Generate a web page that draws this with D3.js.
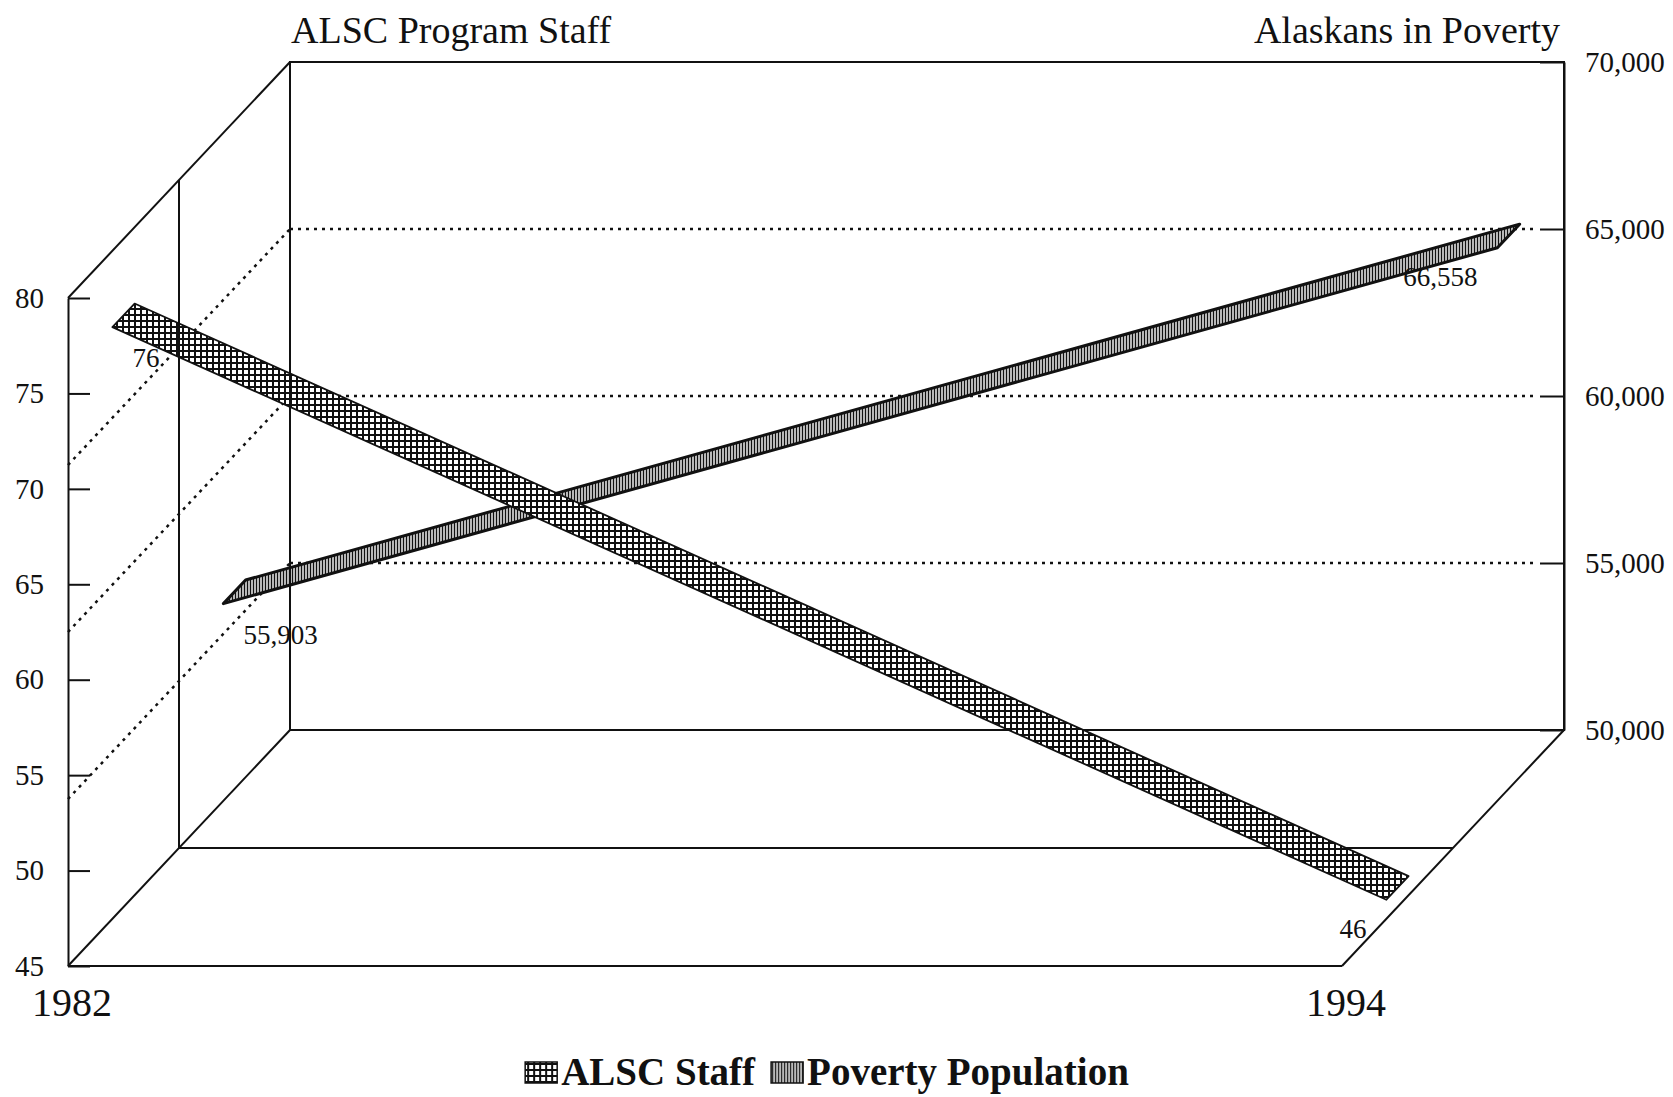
<!DOCTYPE html>
<html>
<head>
<meta charset="utf-8">
<script src="https://cdn.jsdelivr.net/npm/d3@7"></script>
<style>
  body { margin: 0; background: #fff; }
  svg { display: block; }
  text { font-family: "Liberation Serif", "Times New Roman", serif; fill: #111; }
</style>
</head>
<body>
<div id="chart"></div>
<script>
// data
const years = [1982, 1994];
const staffValues = [76, 46];
const povertyValues = [55903, 66558];
const staffTicks = [45, 50, 55, 60, 65, 70, 75, 80];
const povertyTicks = [50000, 55000, 60000, 65000, 70000];
const povertyGrid = [55000, 60000, 65000];
const seriesNames = ['ALSC Staff', 'Poverty Population'];
const axisTitles = ['ALSC Program Staff', 'Alaskans in Poverty'];

const width = 1673, height = 1097;
// front plane of the 3d box and the depth offset to the back wall
const front = {left: 68, right: 1342, top: 298, bottom: 966};
const depth = {dx: 222, dy: -236};
const ribbonDepth = 0.1;
const seriesDepth = [0.2, 0.7];

const proj = (x, y, d) => [x + d * depth.dx, y + d * depth.dy];

const svg = d3.select('#chart').append('svg')
    .attr('width', width)
    .attr('height', height);

svg.append('rect').attr('width', width).attr('height', height).attr('fill', '#fff');

// hatch patterns
const defs = svg.append('defs');
const cross = defs.append('pattern')
    .attr('id', 'cross').attr('patternUnits', 'userSpaceOnUse')
    .attr('width', 6).attr('height', 6);
cross.append('rect').attr('width', 6).attr('height', 6).attr('fill', '#fff');
cross.append('path').attr('d', 'M0 3H6M3 0V6').attr('stroke', '#111').attr('stroke-width', 2);

const stripes = defs.append('pattern')
    .attr('id', 'stripes').attr('patternUnits', 'userSpaceOnUse')
    .attr('width', 3).attr('height', 10);
stripes.append('rect').attr('width', 3).attr('height', 10).attr('fill', '#fff');
stripes.append('path').attr('d', 'M1.5 0V10').attr('stroke', '#111').attr('stroke-width', 1.6);

const xScale = d3.scaleLinear().domain(d3.extent(years)).range([front.left, front.right]);
const yStaff = d3.scaleLinear().domain([45, 80]).range([front.bottom, front.top]);
const yPoverty = d3.scaleLinear().domain([50000, 70000]).range([front.bottom, front.top]);

const line = d3.line();
const frame = svg.append('g')
    .attr('fill', 'none')
    .attr('stroke', '#111')
    .attr('stroke-width', 2);

// back wall
const b0 = proj(front.left, front.top, 1);
frame.append('rect')
    .attr('x', b0[0]).attr('y', b0[1])
    .attr('width', front.right - front.left)
    .attr('height', front.bottom - front.top);

// left wall edges and floor
frame.append('path').attr('d', line([proj(front.left, front.top, 0), proj(front.left, front.top, 1)]));
frame.append('path').attr('d', line([proj(front.left, front.bottom, 0), proj(front.left, front.bottom, 1)]));
frame.append('path').attr('d', line([[front.left, front.bottom], [front.right, front.bottom]]));
frame.append('path').attr('d', line([proj(front.right, front.bottom, 0), proj(front.right, front.bottom, 1)]));
frame.append('path').attr('d', line([proj(front.left, front.bottom, 0.5), proj(front.right, front.bottom, 0.5)]));

// dotted gridlines of the poverty axis
const grid = svg.append('g')
    .attr('fill', 'none')
    .attr('stroke', '#111')
    .attr('stroke-width', 2.5)
    .attr('stroke-dasharray', '3 5');
povertyGrid.forEach(v => {
    const y = yPoverty(v);
    grid.append('path').attr('d', line([proj(front.left, y, 0), proj(front.left, y, 1)]));
    grid.append('path').attr('d', line([proj(front.left, y, 1), proj(front.right - 26, y, 1)]));
});

// axes
const leftAxis = d3.axisLeft(yStaff)
    .tickValues(staffTicks)
    .tickSizeInner(-22)
    .tickSizeOuter(0)
    .tickPadding(24);
const leftG = svg.append('g')
    .attr('transform', `translate(${front.left},0)`)
    .call(leftAxis);

const rightAxis = d3.axisRight(yPoverty)
    .tickValues(povertyTicks)
    .tickFormat(d3.format(','))
    .tickSizeInner(-24)
    .tickSizeOuter(0)
    .tickPadding(21);
const rightG = svg.append('g')
    .attr('transform', `translate(${front.right + depth.dx},${depth.dy})`)
    .call(rightAxis);

[leftG, rightG].forEach(g => {
    g.attr('font-family', '"Liberation Serif", serif').attr('font-size', 29);
    g.selectAll('line, path').attr('stroke', '#111').attr('stroke-width', 2);
    g.selectAll('text').attr('fill', '#111');
});

// ribbons
function ribbonPoints(values, yScale, d0) {
    const fr = values.map((v, i) => proj(xScale(years[i]), yScale(v), d0));
    const bk = values.map((v, i) => proj(xScale(years[i]), yScale(v), d0 + ribbonDepth));
    return {fr, bk};
}

const series = [
    {name: seriesNames[1], values: povertyValues, scale: yPoverty, depth: seriesDepth[1],
     fill: 'url(#stripes)', sw: 3, fmt: d3.format(',')},
    {name: seriesNames[0], values: staffValues, scale: yStaff, depth: seriesDepth[0],
     fill: 'url(#cross)', sw: 1.8, fmt: d3.format('d')}
];

series.forEach(s => {
    const pts = ribbonPoints(s.values, s.scale, s.depth);
    svg.append('path')
        .attr('d', line([...pts.fr, ...pts.bk.slice().reverse()]) + 'Z')
        .attr('fill', s.fill)
        .attr('stroke', '#111')
        .attr('stroke-width', s.sw)
        .attr('stroke-linejoin', 'round');
    s.pts = pts;
});

// vertical frame lines drawn over the ribbons
const frameTop = svg.append('g')
    .attr('fill', 'none')
    .attr('stroke', '#111')
    .attr('stroke-width', 2);
frameTop.append('path').attr('d', line([proj(front.left, front.top, 1), proj(front.left, front.bottom, 1)]));
frameTop.append('path').attr('d', line([proj(front.left, front.top, 0.5), proj(front.left, front.bottom, 0.5)]));

// value labels at both ends
const labels = svg.append('g').attr('font-size', 27);
series.forEach(s => {
    const first = s.pts.fr[0];
    const last = s.pts.fr[s.pts.fr.length - 1];
    labels.append('text')
        .attr('x', first[0] + 20).attr('y', first[1] + 40)
        .text(s.fmt(s.values[0]));
    labels.append('text')
        .attr('x', last[0] - 20).attr('y', last[1] + 38)
        .attr('text-anchor', 'end')
        .text(s.fmt(s.values[s.values.length - 1]));
});

// year labels
svg.append('g').selectAll('text')
    .data(years)
    .join('text')
    .attr('x', d => xScale(d) + 4)
    .attr('y', 1016)
    .attr('text-anchor', 'middle')
    .attr('font-size', 40)
    .text(d => d);

// axis titles
svg.append('text')
    .attr('x', front.left + depth.dx + 1)
    .attr('y', 43)
    .attr('font-size', 38)
    .text(axisTitles[0]);
svg.append('text')
    .attr('x', front.right + depth.dx - 4)
    .attr('y', 43)
    .attr('font-size', 38)
    .attr('text-anchor', 'end')
    .text(axisTitles[1]);

// legend
const legend = svg.append('g');
const fills = ['url(#cross)', 'url(#stripes)'];
let cx = 0;
seriesNames.forEach((name, i) => {
    legend.append('rect')
        .attr('x', cx).attr('y', -23)
        .attr('width', 32).attr('height', 21)
        .attr('fill', fills[i])
        .attr('stroke', '#111').attr('stroke-width', 1.5);
    cx += 36;
    const t = legend.append('text')
        .attr('x', cx).attr('y', 0)
        .attr('font-size', 39)
        .attr('font-weight', 'bold')
        .text(name);
    cx += t.node().getComputedTextLength() + 16;
});
cx -= 16;
legend.attr('transform', `translate(${827 - cx / 2},1085)`);
</script>
</body>
</html>
